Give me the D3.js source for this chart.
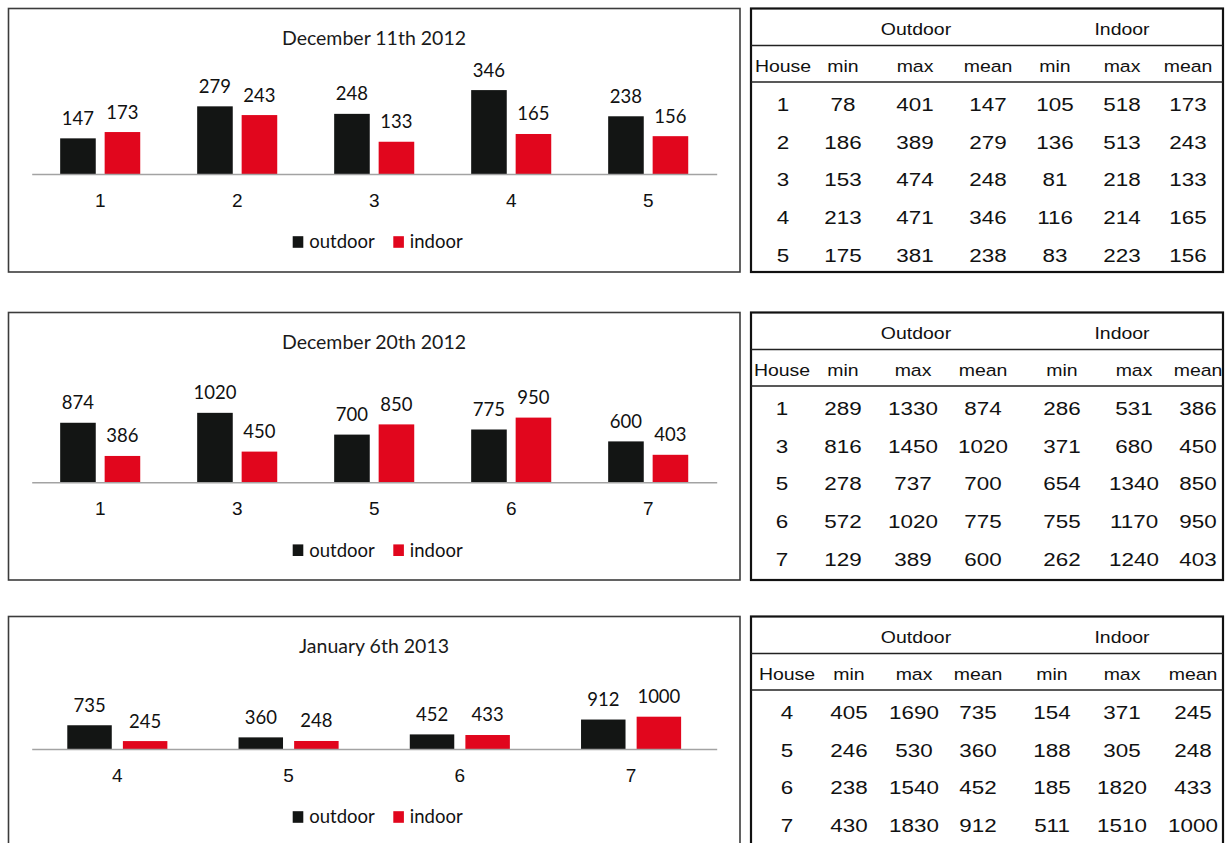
<!DOCTYPE html>
<html>
<head>
<meta charset="utf-8">
<script src="https://cdn.jsdelivr.net/npm/d3@7"></script>
<style>
  body { margin: 0; background: #fff; }
  svg { display: block; }
</style>
</head>
<body>
<svg id="chart"></svg>
<script>
// ---- data: December 11th 2012 ----
var dec11Houses  = ["1", "2", "3", "4", "5"]
var dec11OutMin  = [78, 186, 153, 213, 175]
var dec11OutMax  = [401, 389, 474, 471, 381]
var dec11OutMean = [147, 279, 248, 346, 238]
var dec11InMin   = [105, 136, 81, 116, 83]
var dec11InMax   = [518, 513, 218, 214, 223]
var dec11InMean  = [173, 243, 133, 165, 156]

// ---- data: December 20th 2012 ----
var dec20Houses  = ["1", "3", "5", "6", "7"]
var dec20OutMin  = [289, 816, 278, 572, 129]
var dec20OutMax  = [1330, 1450, 737, 1020, 389]
var dec20OutMean = [874, 1020, 700, 775, 600]
var dec20InMin   = [286, 371, 654, 755, 262]
var dec20InMax   = [531, 680, 1340, 1170, 1240]
var dec20InMean  = [386, 450, 850, 950, 403]

// ---- data: January 6th 2013 ----
var jan06Houses  = ["4", "5", "6", "7"]
var jan06OutMin  = [405, 246, 238, 430]
var jan06OutMax  = [1690, 530, 1540, 1830]
var jan06OutMean = [735, 360, 452, 912]
var jan06InMin   = [154, 188, 185, 511]
var jan06InMax   = [371, 305, 1820, 1510]
var jan06InMean  = [245, 248, 433, 1000]

var seriesNames = ["outdoor", "indoor"]
var groupHeaders = ["Outdoor", "Indoor"]
var colHeaders = ["House", "min", "max", "mean", "min", "max", "mean"]

var panels = [
    {title: "December 11th 2012", houses: dec11Houses,
     out: [dec11OutMin, dec11OutMax, dec11OutMean], inn: [dec11InMin, dec11InMax, dec11InMean],
     yMax: 400},
    {title: "December 20th 2012", houses: dec20Houses,
     out: [dec20OutMin, dec20OutMax, dec20OutMean], inn: [dec20InMin, dec20InMax, dec20InMean],
     yMax: 1200},
    {title: "January 6th 2013", houses: jan06Houses,
     out: [jan06OutMin, jan06OutMax, jan06OutMean], inn: [jan06InMin, jan06InMax, jan06InMean],
     yMax: 2000}
]

// layout (kept apart from the data)
var layout = [
    {top: 8.5, boxH: 263.5, base: 165.5, plotH: 97, cols: [783, 843, 915, 988, 1055, 1122, 1188]},
    {top: 312.5, boxH: 267.5, base: 169.7, plotH: 81.6, cols: [782, 843, 913, 983, 1062, 1134, 1198]},
    {top: 616.5, boxH: 240, base: 132.5, plotH: 64.6, cols: [787, 849, 914, 978, 1052, 1122, 1193]}
]
var groupCenters = [916, 1122]

var screen = {width: 1225, height: 843}
var colors = {outdoor: "#131514", indoor: "#e1061d"}
var labelFont = "Lato, 'Open Sans', sans-serif"
var tableFont = "'Liberation Sans', Arial, sans-serif"

var svg = d3.select("#chart")
    .attr("width", screen.width)
    .attr("height", screen.height)

var cScale = d3.scaleOrdinal().domain(seriesNames).range([colors.outdoor, colors.indoor])

var drawChart = function (p, lay)
{
    var g = svg.append("g").attr("transform", "translate(0," + lay.top + ")")

    g.append("rect")
        .attr("x", 8.5).attr("y", 0)
        .attr("width", 731.5).attr("height", lay.boxH)
        .attr("fill", "none")
        .attr("stroke", "#3c3c3c")
        .attr("stroke-width", 1.6)

    g.append("text")
        .attr("x", 374).attr("y", 30)
        .attr("dy", "0.35em")
        .attr("text-anchor", "middle")
        .style("font-family", labelFont)
        .style("font-size", "19.5px")
        .attr("fill", "#1a1a1a")
        .text(p.title)

    var xScale = d3.scaleBand()
        .domain(p.houses)
        .range([31.7, 716.7])
        .paddingInner(0)
        .paddingOuter(0)

    var inner = d3.scaleBand()
        .domain(seriesNames)
        .range([0, xScale.bandwidth()])
        .paddingInner(0.2)
        .paddingOuter(0.64)

    var yScale = d3.scaleLinear()
        .domain([0, p.yMax])
        .range([lay.base, lay.base - lay.plotH])

    var rows = p.houses.map(function (h, i) {
        return {house: h, outdoor: p.out[2][i], indoor: p.inn[2][i]}
    })

    var groups = g.selectAll("g.cat")
        .data(rows)
        .enter()
        .append("g")
        .classed("cat", true)
        .attr("transform", function (d) { return "translate(" + xScale(d.house) + ",0)" })

    groups.selectAll("rect")
        .data(function (d) { return seriesNames.map(function (s) { return {key: s, value: d[s]} }) })
        .enter()
        .append("rect")
        .attr("x", function (d) { return inner(d.key) })
        .attr("y", function (d) { return yScale(d.value) })
        .attr("width", inner.bandwidth())
        .attr("height", function (d) { return yScale(0) - yScale(d.value) })
        .attr("fill", function (d) { return cScale(d.key) })

    groups.selectAll("text.val")
        .data(function (d) { return seriesNames.map(function (s) { return {key: s, value: d[s]} }) })
        .enter()
        .append("text")
        .classed("val", true)
        .attr("x", function (d) { return inner(d.key) + inner.bandwidth() / 2 })
        .attr("y", function (d) { return yScale(d.value) - 20 })
        .attr("dy", "0.35em")
        .attr("text-anchor", "middle")
        .style("font-family", labelFont)
        .style("font-size", "18.5px")
        .attr("fill", "#111")
        .text(function (d) { return d.value })

    // category axis
    var xAxis = d3.axisBottom(xScale).tickSize(0).tickPadding(0)
    var ax = g.append("g")
        .attr("transform", "translate(0," + lay.base + ")")
        .call(xAxis)
    ax.select(".domain").attr("stroke", "#a3a3a3").attr("stroke-width", 1.5)
    ax.selectAll("text")
        .attr("y", 26)
        .attr("dy", "0.35em")
        .style("font-family", tableFont)
        .style("font-size", "19px")
        .attr("fill", "#111")

    // legend
    var leg = g.append("g").attr("transform", "translate(292.7," + (lay.base + 68) + ")")
    var offs = [0, 100.6]
    var items = leg.selectAll("g")
        .data(seriesNames)
        .enter()
        .append("g")
        .attr("transform", function (d, i) { return "translate(" + offs[i] + ",0)" })
    items.append("rect")
        .attr("x", 0).attr("y", -5.8)
        .attr("width", 10.6).attr("height", 11.6)
        .attr("fill", function (d) { return cScale(d) })
    items.append("text")
        .attr("x", 16.5).attr("y", 0)
        .attr("dy", "0.35em")
        .style("font-family", labelFont)
        .style("font-size", "18.5px")
        .attr("fill", "#111")
        .text(function (d) { return d })
}

var drawTable = function (p, lay)
{
    var g = svg.append("g").attr("transform", "translate(0," + lay.top + ")")
    var left = 751, right = 1223

    g.append("rect")
        .attr("x", left).attr("y", 0)
        .attr("width", right - left).attr("height", lay.boxH)
        .attr("fill", "none")
        .attr("stroke", "#111")
        .attr("stroke-width", 2.2)

    ;[37, 73.5].forEach(function (yy) {
        g.append("line")
            .attr("x1", left).attr("x2", right)
            .attr("y1", yy).attr("y2", yy)
            .attr("stroke", "#222")
            .attr("stroke-width", 1.6)
    })

    var stretch = function (x, y) { return "translate(" + x + "," + y + ") scale(1.18,1)" }

    g.selectAll("text.grp")
        .data(groupHeaders)
        .enter()
        .append("text")
        .attr("transform", function (d, i) { return stretch(groupCenters[i], 20.5) })
        .attr("dy", "0.35em")
        .attr("text-anchor", "middle")
        .style("font-family", tableFont)
        .style("font-size", "16.5px")
        .attr("fill", "#111")
        .text(function (d) { return d })

    g.selectAll("text.hdr")
        .data(colHeaders)
        .enter()
        .append("text")
        .attr("transform", function (d, i) { return stretch(lay.cols[i], 57.5) })
        .attr("dy", "0.35em")
        .attr("text-anchor", "middle")
        .style("font-family", tableFont)
        .style("font-size", "16.5px")
        .attr("fill", "#111")
        .text(function (d) { return d })

    var rowScale = d3.scaleLinear().domain([0, 1]).range([95.5, 133.4])

    var cells = []
    p.houses.forEach(function (h, i) {
        var vals = [h, p.out[0][i], p.out[1][i], p.out[2][i], p.inn[0][i], p.inn[1][i], p.inn[2][i]]
        vals.forEach(function (v, j) { cells.push({row: i, col: j, v: v}) })
    })

    g.selectAll("text.cell")
        .data(cells)
        .enter()
        .append("text")
        .attr("transform", function (d) { return stretch(lay.cols[d.col], rowScale(d.row)) })
        .attr("dy", "0.35em")
        .attr("text-anchor", "middle")
        .style("font-family", tableFont)
        .style("font-size", "19px")
        .attr("fill", "#111")
        .text(function (d) { return d.v })
}

panels.forEach(function (p, i) {
    drawChart(p, layout[i])
    drawTable(p, layout[i])
})
</script>
</body>
</html>
